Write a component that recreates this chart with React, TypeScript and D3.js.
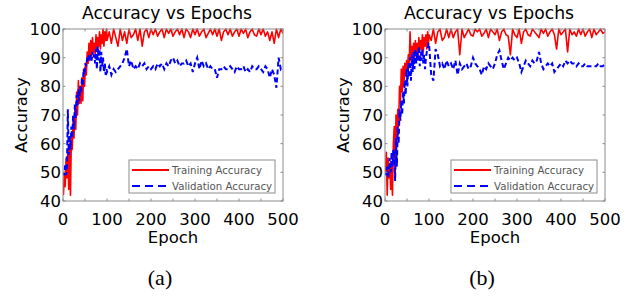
import * as d3 from "d3";

// epochs sampled: every 2 up to 99, then every 5
const epochs = [...d3.range(1, 100, 2), ...d3.range(100, 501, 5)];

const trainA = [
  42, 50, 45, 55, 48, 58, 44, 60, 42, 62, 58, 68, 62, 72, 65, 78, 70, 82, 74, 80,
  74, 83, 75, 86, 80, 88, 84, 92, 88, 95, 89, 96, 90, 97, 92, 95, 91, 98, 93, 97,
  94, 99, 93, 98, 95, 100, 94, 99, 96, 100,
  96, 99, 95, 100, 97, 94, 100, 96, 99, 95,
  100, 97, 98, 100, 96, 100, 94, 99, 100, 97,
  100, 98, 100, 97.5, 99, 100, 97, 100, 98.5, 100,
  97.5, 99, 100, 98, 100, 97, 100, 99, 97, 100,
  98, 100, 97.5, 99, 100, 97, 98.5, 100, 98, 100,
  97.5, 100, 96, 99, 100, 98, 100, 97.5, 99, 100,
  97.5, 100, 98.5, 100, 97, 99, 100, 98, 97.5, 100,
  98, 100, 97.5, 99, 96, 99, 95, 100, 97, 100,
  98.5,
];

const valA = [
  50, 49, 53, 49, 52, 72, 56, 63, 58, 66, 62, 70, 65, 74, 69, 77, 73, 79, 75, 80,
  78, 83, 80, 86, 84, 88, 87, 90, 89, 91, 90, 91, 89, 92, 90, 91, 88, 93, 86, 94,
  89, 93, 85, 92, 87, 90, 85, 88, 84, 86,
  85, 87, 84, 86, 85, 86, 87, 88, 90, 93,
  87, 89, 86, 87, 86, 88, 87, 88, 86, 87,
  86, 87, 86, 88, 87, 88, 86, 88, 87, 89,
  90, 88, 89, 87, 88, 88, 89, 87, 88, 85,
  88, 90, 86, 89, 87, 88, 86, 87, 86, 86,
  83, 86, 86, 87, 86, 86, 87, 86, 85, 87,
  86, 86, 87, 85, 86, 85, 87, 86, 86, 87,
  86, 85, 87, 86, 83, 86, 84, 79.5, 90, 86,
  87,
];

const trainB = [
  50, 57, 42, 55, 48, 53, 44, 52, 42, 60, 66, 48, 70, 60, 72, 66, 80, 74, 86, 78,
  87, 80, 88, 84, 89, 86, 91, 88, 99, 89, 94, 88, 95, 90, 96, 91, 95, 90, 97, 92,
  96, 93, 98, 92, 97, 94, 98, 93, 99, 95,
  98, 96, 100, 95, 99, 100, 96, 97, 100, 97,
  100, 97, 99, 100, 91, 100, 97, 98.5, 100, 98,
  97.5, 100, 99, 100, 97.5, 98.5, 100, 97, 100, 99,
  98, 100, 96, 99, 100, 98, 97.5, 91, 100, 98,
  97, 100, 95, 99, 100, 98, 97.5, 100, 99, 98,
  97, 100, 98.5, 100, 97.5, 99, 100, 98, 93, 100,
  98, 99, 100, 92, 100, 98, 99, 97.5, 100, 98,
  100, 97.5, 99, 100, 97, 100, 98, 99, 100, 98.5,
  99,
];

const valB = [
  50, 49, 52, 48, 51, 55, 50, 57, 52, 58, 55, 47, 62, 52, 66, 60, 72, 68, 75, 70,
  78, 74, 82, 77, 86, 80, 88, 83, 90, 82, 91, 85, 92, 86, 93, 88, 92, 89, 94, 87,
  92, 89, 93, 88, 91, 86, 90, 92, 93, 95,
  95, 84, 82, 93, 91, 87, 88, 86, 89, 87,
  88, 86, 89, 84, 88, 86, 87, 88, 86, 87,
  90, 88, 87, 86, 84, 87, 86, 88, 87, 86,
  88, 91, 92.5, 89, 86, 88, 90, 89, 90, 89,
  90, 88, 85, 87, 89, 88, 87, 89, 88, 89,
  92, 88, 86, 87, 88, 87, 88, 85, 86, 87,
  88, 87, 89, 88, 89, 88, 88, 87, 88, 87,
  87, 88, 87, 87, 87, 87, 87, 88, 87, 87,
  88,
];

const xTicks = [0, 100, 200, 300, 400, 500];
const yTicks = [40, 50, 60, 70, 80, 90, 100];
const legendLabels = ["Training Accuracy", "Validation Accuracy"];

const FONT = "'DejaVu Sans', Verdana, sans-serif";
const AXIS_GRAY = "#8c8c8c";

function Panel({ left, train, val, tag }) {
  const top = 29;
  const w = 220;
  const h = 172;

  const x = d3.scaleLinear().domain([0, 500]).range([0, w]);
  const y = d3.scaleLinear().domain([40, 100]).range([h, 0]);

  const line = d3
    .line<number>()
    .x((_, i) => x(epochs[i]))
    .y((d) => y(d));

  const minorX = d3.range(0, 501, 50);

  return (
    <g transform={`translate(${left},${top})`}>
      <text x={w / 2 - 6} y={-10} textAnchor="middle" fontFamily={FONT} fontSize={17.2}>
        Accuracy vs Epochs
      </text>

      <defs>
        <clipPath id={`clip-${tag}`}>
          <rect x={0} y={-1} width={w} height={h + 1} />
        </clipPath>
      </defs>

      <g clipPath={`url(#clip-${tag})`}>
        <path d={line(train) ?? ""} fill="none" stroke="#ff0000" strokeWidth={1.6} strokeLinejoin="round" />
        <path
          d={line(val) ?? ""}
          fill="none"
          stroke="#0000ff"
          strokeWidth={2}
          strokeDasharray="5,3"
        />
      </g>

      <rect x={0} y={0} width={w} height={h} fill="none" stroke={AXIS_GRAY} strokeWidth={1} />

      {minorX.map((t) => (
        <g key={`xt${t}`} stroke={AXIS_GRAY}>
          <line x1={x(t)} x2={x(t)} y1={h} y2={h - 2.5} />
          <line x1={x(t)} x2={x(t)} y1={0} y2={2.5} />
        </g>
      ))}
      {yTicks.map((t) => (
        <g key={`yt${t}`} stroke={AXIS_GRAY}>
          <line x1={0} x2={2.5} y1={y(t)} y2={y(t)} />
          <line x1={w} x2={w - 2.5} y1={y(t)} y2={y(t)} />
        </g>
      ))}

      {xTicks.map((t) => (
        <text key={`xl${t}`} x={x(t)} y={h + 24} textAnchor="middle" fontFamily={FONT} fontSize={16.5}>
          {t}
        </text>
      ))}
      {yTicks.map((t) => (
        <text
          key={`yl${t}`}
          x={-2}
          y={y(t)}
          dy="0.36em"
          textAnchor="end"
          fontFamily={FONT}
          fontSize={16.5}
        >
          {t}
        </text>
      ))}

      <text x={w / 2} y={h + 42} textAnchor="middle" fontFamily={FONT} fontSize={16.5}>
        Epoch
      </text>
      <text
        transform={`translate(-36,${h / 2}) rotate(-90)`}
        textAnchor="middle"
        fontFamily={FONT}
        fontSize={16.5}
      >
        Accuracy
      </text>

      <g transform={`translate(${w - 154},${h - 41})`}>
        <rect x={0} y={0} width={146} height={33} fill="#fff" stroke={AXIS_GRAY} strokeWidth={1} />
        <line x1={3} x2={40} y1={10} y2={10} stroke="#ff0000" strokeWidth={2} />
        <line x1={3} x2={40} y1={26} y2={26} stroke="#0000ff" strokeWidth={2.2} strokeDasharray="8,5" />
        {legendLabels.map((l, i) => (
          <text
            key={l}
            x={43}
            y={10 + i * 16}
            dy="0.36em"
            fontFamily={FONT}
            fontSize={10.2}
            fill="#555"
          >
            {l}
          </text>
        ))}
      </g>

      <text
        x={w / 2 - 13}
        y={h + 84}
        textAnchor="middle"
        fontFamily="'Liberation Serif', 'Times New Roman', serif"
        fontSize={22}
      >
        ({tag})
      </text>
    </g>
  );
}

export default function App() {
  return (
    <svg
      width={633}
      height={297}
      style={{ position: "absolute", left: 0, top: 0, background: "#fff" }}
    >
      <Panel left={63} train={trainA} val={valA} tag="a" />
      <Panel left={385} train={trainB} val={valB} tag="b" />
    </svg>
  );
}
